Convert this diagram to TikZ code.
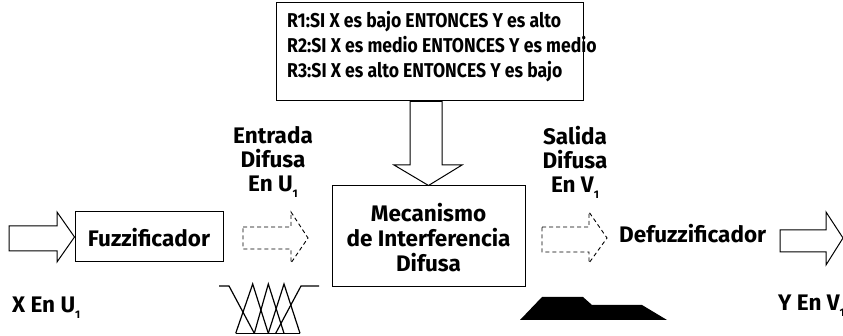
\documentclass[tikz,border=0pt]{standalone}
\usepackage{fontspec}
\setmainfont{Fira Sans}
\newfontfamily\rulefont[FakeStretch=0.88]{Fira Sans}
\newcommand{\subone}{\raisebox{-0.5ex}{\fontsize{11}{11}\selectfont 1}}
\begin{document}
\begin{tikzpicture}[x=1pt,y=-1pt,
  lbl/.style={font=\bfseries\fontsize{22.5}{24}\selectfont, inner sep=0pt, align=center},
  lblm/.style={font=\bfseries\fontsize{22.5}{25}\selectfont, inner sep=0pt, align=center},
  rule/.style={font=\rulefont\bfseries\fontsize{20}{25}\selectfont, inner sep=0pt, align=left},
  box/.style={draw, line width=1pt},
  blk/.style={draw, line width=1pt, line join=miter, fill=white},
  dsh/.style={draw, line width=0.9pt, dash pattern=on 4pt off 3pt},
  mf/.style={line width=1.2pt, line join=miter}]
\clip (0,0) rectangle (843,336);
\useasboundingbox (0,0) rectangle (843,336);
% rules box
\node[box, minimum width=307pt, minimum height=98pt, inner sep=0pt] (rbox) at (429.5,52) {};
\node[rule, anchor=north west] (rules) at (287,11) {R1:SI X es bajo ENTONCES Y es alto\\R2:SI X es medio ENTONCES Y es medio\\R3:SI X es alto ENTONCES Y es bajo};
% mechanism box
\node[box, minimum width=193pt, minimum height=101pt, inner sep=0pt] (mec) at (428.5,236.5) {};
\node[lblm] (mectxt) at (428.5,238) {Mecanismo\\de Interferencia\\Difusa};
% down arrow from rules to mechanism
\draw[blk] (rbox.south -| 410,0) -- (rbox.south -| 442,0) -- (442,165) -- (462,165) -- (mec.north) -- (394,165) -- (410,165) -- cycle;
% fuzzificador
\node[box, minimum width=148pt, minimum height=50pt, inner sep=0pt] (fuz) at (149,237) {};
\node[lbl] (fuztxt) at (149,238) {Fuzzificador};
% left input arrow
\draw[blk] (9,226) -- (57,226) -- (57,212) -- (fuz.west) -- (57,262) -- (57,251) -- (9,251) -- cycle;
\node[lbl, anchor=west] (xin) at (12,308) {X En U\subone};
% dashed arrow 1
\draw[dsh] (243,227) -- (291,227) -- (291,212) -- (308,238) -- (291,263) -- (291,249) -- (243,249) -- cycle;
\node[lbl] (entr) at (273,162) {Entrada\\Difusa\\En U\subone};
% membership functions
\draw[mf] (219,286) -- (229,286) -- (254.3,333.3);
\draw[mf] (235.7,333.3) -- (252.7,284) -- (268.3,333.3);
\draw[mf] (254.3,333.3) -- (268.3,284) -- (284,333.3);
\draw[mf] (268.3,333.3) -- (284,284) -- (300,333.3);
\draw[mf] (275.7,333.3) -- (301,286) -- (319,286);
\draw[mf] (235.7,333.3) -- (300,333.3);
% dashed arrow 2
\draw[dsh] (542,227) -- (589,227) -- (589,212) -- (607,238) -- (589,263) -- (589,252) -- (542,252) -- cycle;
\node[lbl] (sal) at (575,162) {Salida\\Difusa\\En V\subone};
% output fuzzy set
\fill (520,320) -- (542,297) -- (583,297) -- (592,305) -- (642,305) -- (667,320) -- cycle;
% defuzzificador
\node[lbl, anchor=west] (def) at (619,234) {Defuzzificador};
% right output arrow
\draw[blk] (780,230) -- (826,230) -- (826,212) -- (843,238) -- (826,265) -- (826,252) -- (780,252) -- cycle;
\node[lbl, anchor=west] (yout) at (778,306) {Y En V\subone};
\end{tikzpicture}
\end{document}
